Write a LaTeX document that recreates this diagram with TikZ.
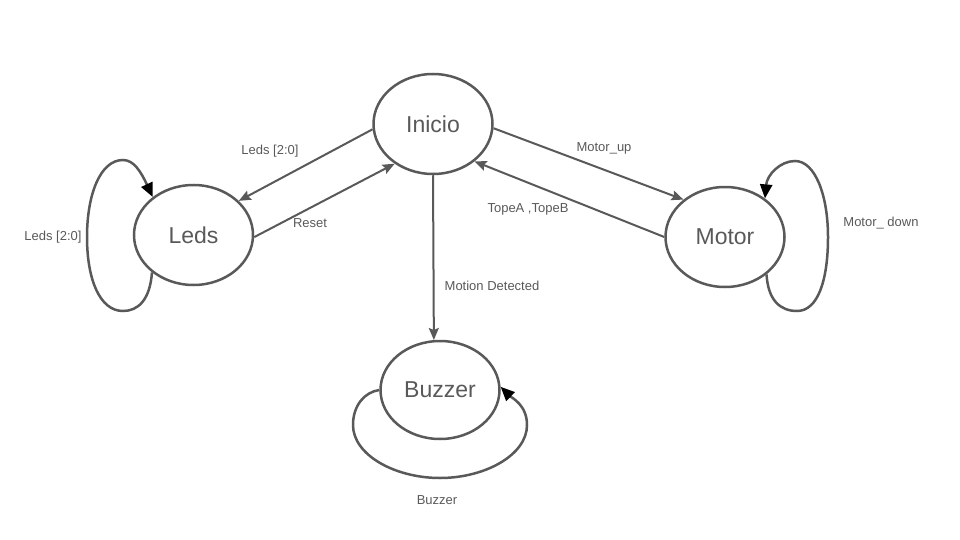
\documentclass[tikz,border=0pt]{standalone}
\usepackage{fontspec}
\setmainfont{Liberation Sans}
\usetikzlibrary{shapes.geometric,arrows.meta}
\definecolor{linegray}{HTML}{595959}
\begin{document}
\begin{tikzpicture}[x=1pt,y=-1pt,
  state/.style={ellipse,draw=linegray,line width=2.5pt,minimum width=119pt,minimum height=100pt,inner sep=0pt,text=linegray,font=\fontsize{23}{27}\selectfont},
  lbl/.style={text=linegray,font=\fontsize{13}{15}\selectfont,inner sep=0pt},
  edge/.style={draw=linegray,line width=2pt,-{Stealth[length=12pt,width=10pt,inset=2pt]}},
  selfloop/.style={draw=linegray,line width=2.5pt,-{Triangle[length=14pt,width=12pt,color=black]}}]
\useasboundingbox (0,0) rectangle (960,540);
\node[state] (inicio) at (433,124) {Inicio};
\node[state] (leds) at (193.5,235) {Leds};
\node[state] (motor) at (725,237) {Motor};
\node[state,minimum height=98pt] (buzzer) at (440,390) {Buzzer};
\draw[edge] (inicio.185) -- (leds.37);
\draw[edge] (leds.-2) -- (inicio.226);
\draw[edge] (inicio.-4) -- (motor.138);
\draw[edge] (motor.180) -- (inicio.318);
\draw[edge] (inicio.270) -- (buzzer.97);
\draw[selfloop] (leds.222) .. controls (150,300) and (138,311) .. (123,311)
  .. controls (100,311) and (87,280) .. (87,237)
  .. controls (87,195) and (100,160) .. (123,160)
  .. controls (134,160) and (141,172) .. (leds.137);
\draw[selfloop] (motor.318) .. controls (768,300) and (780,311) .. (797,311)
  .. controls (818,311) and (828,280) .. (828,237)
  .. controls (828,195) and (815,161) .. (795,161)
  .. controls (780,161) and (767,175) .. (motor.44);
\draw[selfloop] (buzzer.180) .. controls (365,392) and (353,405) .. (353,425)
  .. controls (353,455) and (395,478) .. (440,478)
  .. controls (485,478) and (527,455) .. (527,425)
  .. controls (527,405) and (512,398) .. (buzzer.3);
\node[lbl] (lblledsup) at (270,151) {Leds [2:0]};
\node[lbl] (lblreset) at (310,223) {Reset};
\node[lbl] (lblmotorup) at (604,148) {Motor\_up};
\node[lbl] (lbltope) at (528,209) {TopeA ,TopeB};
\node[lbl] (lblmotion) at (492,286) {Motion Detected};
\node[lbl] (lblledsloop) at (53,237) {Leds [2:0]};
\node[lbl] (lblmotordown) at (881,223) {Motor\_ down};
\node[lbl] (lblbuzzer) at (437,500) {Buzzer};
\end{tikzpicture}
\end{document}
